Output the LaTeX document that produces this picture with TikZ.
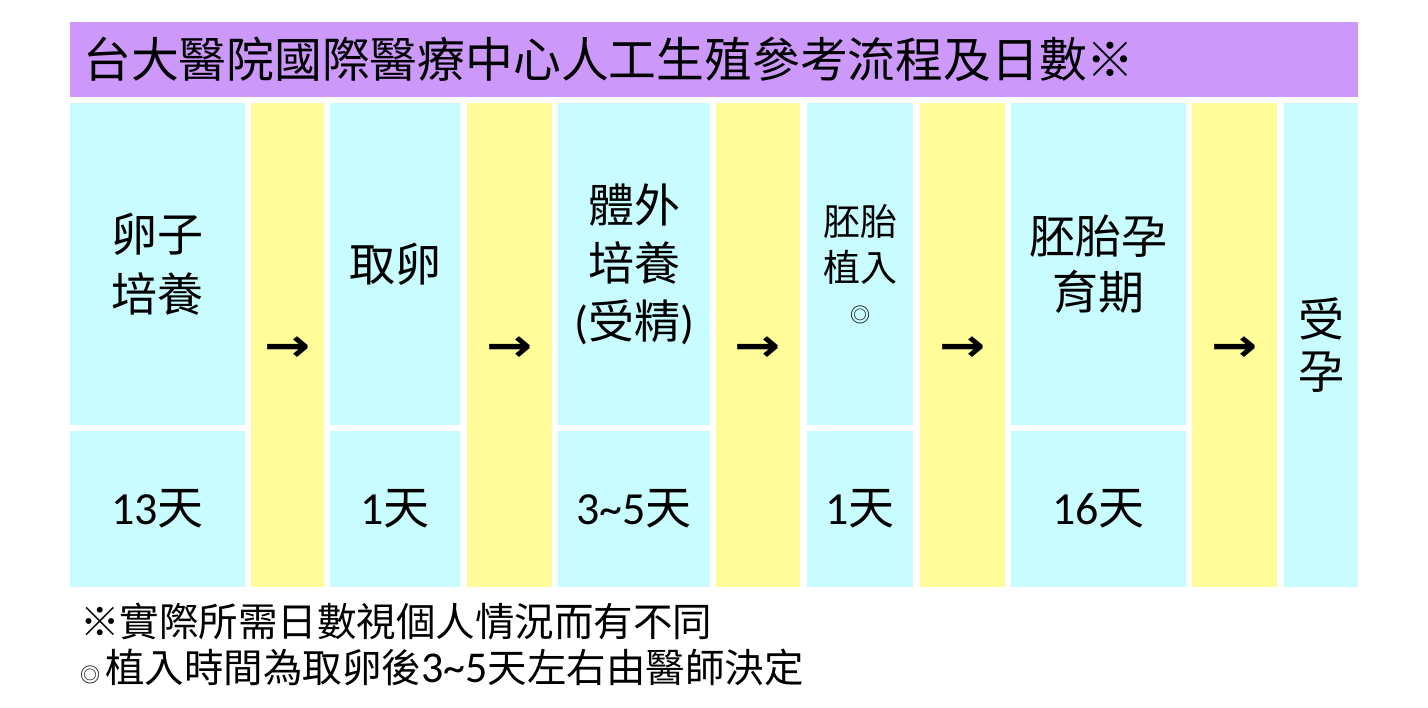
\documentclass[tikz,border=0pt]{standalone}
\usepackage{fontspec}
\newfontfamily\cjk{Noto Sans CJK TC}
\newfontfamily\lat{Carlito}
\newfontfamily\arr{DejaVu Sans Bold}
\definecolor{cellcyan}{HTML}{C8FCFF}
\definecolor{cellyellow}{HTML}{FFFC99}
\definecolor{titlepurple}{HTML}{CC99FA}
\newcommand{\sm}{{\fontsize{20}{20}\selectfont ◎}}
\begin{document}
\begin{tikzpicture}[x=1pt,y=-1pt,
  cell/.style={inner sep=0pt, outer sep=0pt, align=center, text=black},
  cyancell/.style={cell, fill=cellcyan},
  yellowcell/.style={cell, fill=cellyellow},
  arrtxt/.style={inner sep=0pt, font=\arr\fontsize{46}{50}\selectfont},
  bigtxt/.style={font=\cjk\fontsize{46}{60}\selectfont},
  midtxt/.style={font=\cjk\fontsize{37}{46}\selectfont},
  daytxt/.style={font=\cjk\fontsize{46}{50}\selectfont},
  notetxt/.style={font=\cjk\fontsize{39.5}{44}\selectfont, anchor=west, inner sep=0pt}
]
\useasboundingbox (0,0) rectangle (1428,708);
\fill[white] (0,0) rectangle (1428,708);
% title
\node[cell, fill=titlepurple, minimum width=1288pt, minimum height=75pt] (title) at (714,59.5) {};
\node[font=\cjk\fontsize{47.8}{50}\selectfont, anchor=west, inner sep=0pt] (titletext) at (83,59) {台大醫院國際醫療中心人工生殖參考流程及日數※};
% column 1
\node[cyancell, bigtxt, minimum width=175pt, minimum height=322pt] (c1) at (157.5,264) {卵子\\培養};
\node[cyancell, daytxt, minimum width=175pt, minimum height=156pt] (d1) at (157.5,509) {{\lat 13}天};
% arrow 1
\node[yellowcell, minimum width=73pt, minimum height=484pt] (a1) at (287.5,345) {};
\node[arrtxt] (a1t) at (287.5,349) {\scalebox{1.2}[1]{→}};
% column 2
\node[cyancell, bigtxt, minimum width=130pt, minimum height=322pt] (c2) at (395,264) {取卵};
\node[cyancell, daytxt, minimum width=130pt, minimum height=156pt] (d2) at (395,509) {{\lat 1}天};
% arrow 2
\node[yellowcell, minimum width=85pt, minimum height=484pt] (a2) at (509.5,345) {};
\node[arrtxt] (a2t) at (509.5,349) {\scalebox{1.2}[1]{→}};
% column 3
\node[cyancell, font=\cjk\fontsize{46}{58}\selectfont, minimum width=152pt, minimum height=322pt] (c3) at (634,264) {體外\\培養\\{\lat(}受精{\lat)}};
\node[cyancell, daytxt, minimum width=152pt, minimum height=156pt] (d3) at (634,509) {{\lat 3\textasciitilde5}天};
% arrow 3
\node[yellowcell, minimum width=84pt, minimum height=484pt] (a3) at (758,345) {};
\node[arrtxt] (a3t) at (758,349) {\scalebox{1.2}[1]{→}};
% column 4
\node[cyancell, midtxt, minimum width=106pt, minimum height=322pt] (c4) at (860,264) {胚胎\\植入\\[-5pt]\sm};
\node[cyancell, daytxt, minimum width=106pt, minimum height=156pt] (d4) at (860,509) {{\lat 1}天};
% arrow 4
\node[yellowcell, minimum width=85pt, minimum height=484pt] (a4) at (962.5,345) {};
\node[arrtxt] (a4t) at (962.5,349) {\scalebox{1.2}[1]{→}};
% column 5
\node[cyancell, font=\cjk\fontsize{46}{56}\selectfont, minimum width=175pt, minimum height=322pt] (c5) at (1098.5,264) {胚胎孕\\育期};
\node[cyancell, daytxt, minimum width=175pt, minimum height=156pt] (d5) at (1098.5,509) {{\lat 16}天};
% arrow 5
\node[yellowcell, minimum width=85pt, minimum height=484pt] (a5) at (1234.5,345) {};
\node[arrtxt] (a5t) at (1234.5,349) {\scalebox{1.2}[1]{→}};
% column 6
\node[cyancell, font=\cjk\fontsize{46}{52}\selectfont, minimum width=74pt, minimum height=484pt] (c6) at (1321,345) {受\\孕};
% notes
\node[notetxt] (n1) at (80,622) {※實際所需日數視個人情況而有不同};
\node[notetxt] (n2) at (80,667) {\sm\hspace{5pt}植入時間為取卵後{\lat\fontsize{44}{44}\selectfont 3\textasciitilde5}天左右由醫師決定};
\end{tikzpicture}
\end{document}
